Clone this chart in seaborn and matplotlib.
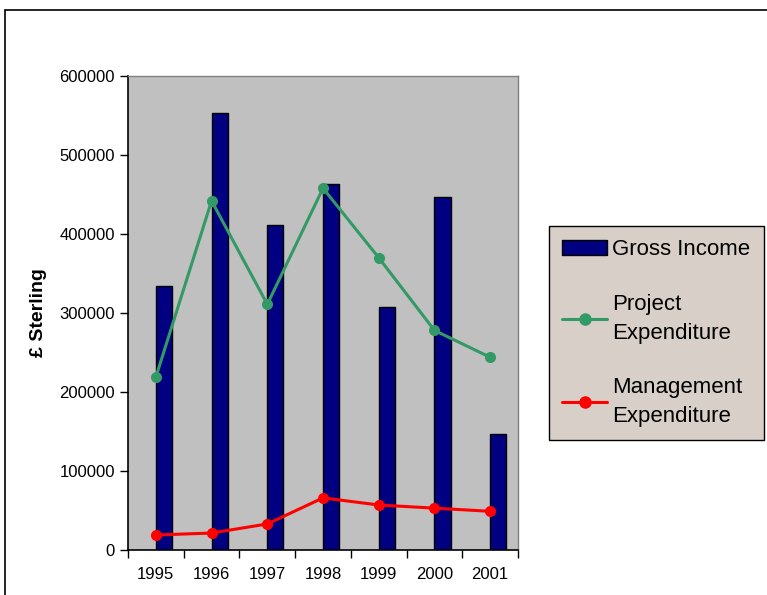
import matplotlib
matplotlib.use("Agg")
import matplotlib.pyplot as plt
import matplotlib.patches as mpatches
from matplotlib.lines import Line2D
import seaborn as sns
import pandas as pd
import numpy as np

years = ["1995", "1996", "1997", "1998", "1999", "2000", "2001"]
gross_income = [334000, 553000, 411000, 463000, 308000, 447000, 147000]
project_exp = [219000, 442000, 311000, 458000, 370000, 278000, 244000]
management_exp = [19000, 21500, 33000, 66000, 57000, 53000, 49000]

sns.set_style("white")
plt.rcParams['font.family'] = ['Liberation Sans', 'DejaVu Sans']
plt.rcParams['text.color'] = 'black'
plt.rcParams['axes.labelcolor'] = 'black'
plt.rcParams['xtick.color'] = 'black'
plt.rcParams['ytick.color'] = 'black'

idx = np.arange(len(years))
bar_w = 0.29
df = pd.DataFrame({"pos": idx + bar_w / 2, "idx": idx, "gross": gross_income,
                   "project": project_exp, "mgmt": management_exp})

fig = plt.figure(figsize=(7.67, 5.95), dpi=100)
ax = fig.add_axes([0.1669, 0.0756, 0.5085, 0.7966])
ax.set_facecolor("#C0C0C0")

# bars sit to the right of each category centre, markers on the centre
sns.barplot(data=df, x="pos", y="gross", native_scale=True, width=bar_w,
            color="#000080", saturation=1, edgecolor="black", linewidth=1, ax=ax)
sns.lineplot(data=df, x="idx", y="project", color="#339966", linewidth=2.2,
             marker="o", markersize=8, markeredgewidth=0, ax=ax)
sns.lineplot(data=df, x="idx", y="mgmt", color="#FF0000", linewidth=2.2,
             marker="o", markersize=8, markeredgewidth=0, ax=ax)

ax.set_xlim(-0.5, len(years) - 0.5)
ax.set_ylim(0, 600000)
ax.set_yticks(range(0, 600001, 100000))
ax.set_yticklabels([str(v) for v in range(0, 600001, 100000)], fontsize=12)
ax.set_xticks(idx)
ax.set_xticklabels(years, fontsize=12)
ax.set_xticks(np.arange(-0.5, len(years), 1), minor=True)
ax.tick_params(axis="x", which="major", length=0, pad=12)
ax.tick_params(axis="x", which="minor", length=6, width=1, color="black", direction="out", bottom=True)
ax.tick_params(axis="y", length=6, width=1, color="black", direction="out", left=True)
ax.set_xlabel("")
ax.set_ylabel("£ Sterling", fontsize=14, fontweight="bold", labelpad=9)

for s in ["left", "bottom"]:
    ax.spines[s].set_color("black")
    ax.spines[s].set_linewidth(1.2)
for s in ["top", "right"]:
    ax.spines[s].set_color("#808080")
    ax.spines[s].set_linewidth(1)

handles = [mpatches.Patch(facecolor="#000080", edgecolor="black", linewidth=1),
           Line2D([], [], color="#339966", linewidth=2.2, marker="o", markersize=8),
           Line2D([], [], color="#FF0000", linewidth=2.2, marker="o", markersize=8)]
labels = ["Gross Income", "Project\nExpenditure", "Management\nExpenditure"]
leg = fig.legend(handles, labels, loc="upper left", bbox_to_anchor=(0.7158, 0.620),
                 fontsize=16, frameon=True, fancybox=False, framealpha=1,
                 edgecolor="black", facecolor="#D8D0C8", labelspacing=1.5,
                 handlelength=2.0, handleheight=0.7, handletextpad=0.25,
                 borderpad=0.6, borderaxespad=0)
leg.get_frame().set_linewidth(1)
for t in leg.get_texts():
    t.set_linespacing(1.5)

fig.patches.append(mpatches.Rectangle((5 / 767, -0.1), 1.2, 1 - 10 / 595 + 0.1,
                                      transform=fig.transFigure, fill=False,
                                      edgecolor="black", linewidth=1.2))

fig.savefig("out.png", dpi=100)
